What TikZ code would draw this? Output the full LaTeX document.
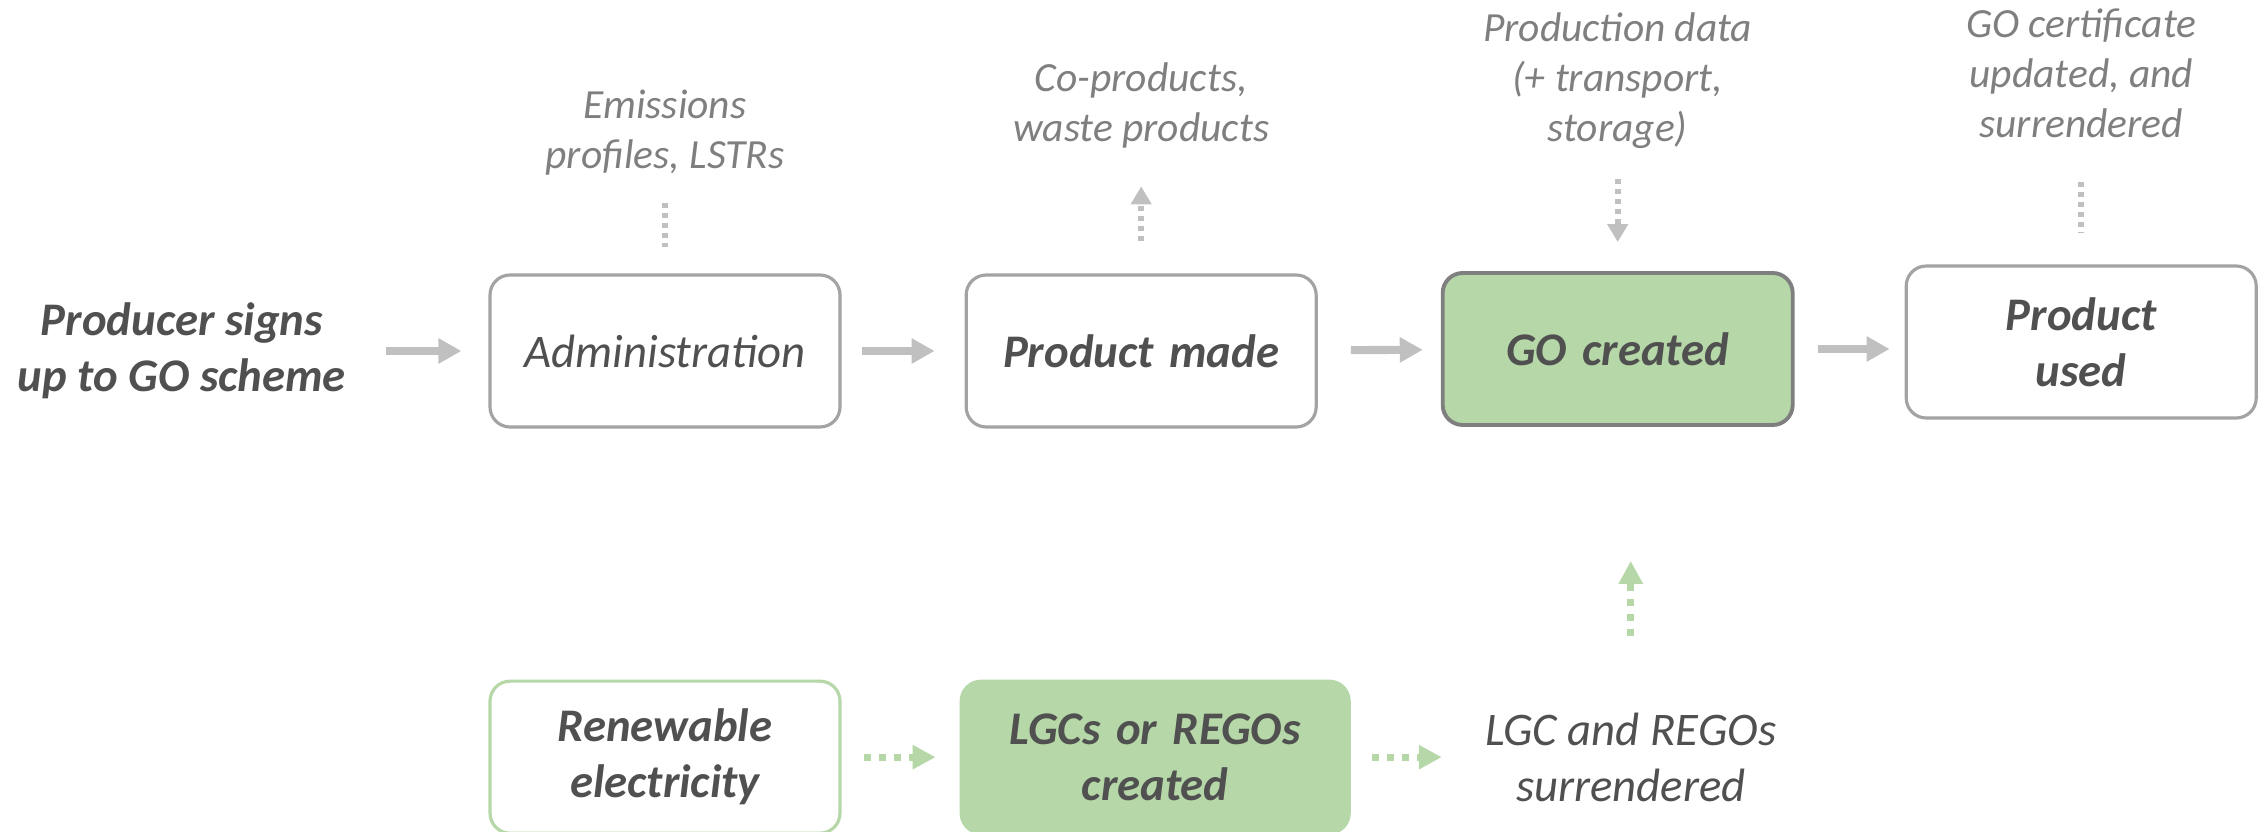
\documentclass[tikz,border=0pt]{standalone}
\usepackage{fontspec}
\setmainfont{Carlito}
\usepackage{tikz}
\usetikzlibrary{positioning, arrows.meta, calc}

\definecolor{boxgray}{HTML}{A3A3A3}
\definecolor{boxdark}{HTML}{7F7F7F}
\definecolor{textdark}{HTML}{505050}
\definecolor{textlight}{HTML}{7F7F7F}
\definecolor{arrowgray}{HTML}{C0C0C0}
\definecolor{gogreen}{HTML}{B6D7A8}

\begin{document}
\begin{tikzpicture}
	% Define styles
	\tikzset{
		block/.style={rectangle, rounded corners=0.2cm, draw=boxgray, line width=0.9pt, fill=white, text width=3.1cm, align=center, minimum width=3.5cm, minimum height=1.52cm, text=textdark, font=\fontsize{13.3}{15.9}\selectfont\itshape},
		bold/.style={font=\fontsize{13.3}{15.9}\selectfont\itshape\bfseries},
		side/.style={align=center, text=textdark, font=\fontsize{13.3}{15.9}\selectfont\itshape},
		note/.style={align=center, text=textlight, font=\fontsize{11.8}{14.3}\selectfont\itshape},
		line/.style={draw=arrowgray, line width=2.3pt, -{Triangle[length=2.3mm, width=2.4mm]}, shorten <=0.22cm, shorten >=0.24cm},
		dots/.style={draw=arrowgray, line width=1.7pt, dash pattern=on 0.05cm off 0.05cm},
		dotline/.style={dots, -{Triangle[length=1.8mm, width=2mm]}},
		greenline/.style={draw=gogreen, line width=2pt, dash pattern=on 0.07cm off 0.08cm, -{Triangle[length=2.3mm, width=2.3mm]}, shorten <=0.22cm, shorten >=0.24cm}
	}
	\useasboundingbox (0,0) rectangle (22.67,-8.32);
	
	% Nodes
	\node[block] (admin) at (6.65,-3.51) {Administration};
	\node[block, bold, right=1.23cm of admin] (made) {Product made};
	\node[block, bold, fill=gogreen, draw=boxdark, line width=1.1pt, right=1.23cm of made, yshift=0.02cm] (go) {GO created};
	\node[block, bold, right=1.1cm of go, yshift=0.07cm] (used) {Product\\used};
	\node[side, bold, left=1.3cm of admin] (signup) {Producer signs\\up to GO scheme};
	
	\node[note, above=0.86cm of admin] (emis) {Emissions\\profiles, LSTRs};
	\node[note, above=1.13cm of made] (coprod) {Co-products,\\waste products};
	\node[note, above=1.1cm of go] (data) {Production data\\(+ transport,\\storage)};
	\node[note, above=1.14cm of used] (cert) {GO certificate\\updated, and\\surrendered};
	
	\node[block, bold, draw=gogreen, below=2.51cm of admin] (renew) {Renewable\\electricity};
	\node[block, bold, fill=gogreen, draw=gogreen, text width=3.5cm, minimum width=3.88cm, right=1.18cm of renew] (lgc) {LGCs or REGOs\\created};
	\node[side, right=1.22cm of lgc] (surr) {LGC and REGOs\\surrendered};
	
	% Arrows
	\draw[line, shorten <=0.28cm, shorten >=0.27cm] (signup) -- (admin);
	\draw[line, shorten <=0.2cm, shorten >=0.3cm] (admin) -- (made);
	\draw[line, shorten <=0.33cm, shorten >=0.18cm] (made) -- (go);
	\draw[line, shorten <=0.23cm, shorten >=0.15cm] (go.east) -- (go.east -| used.west);
	
	\draw[dots, shorten <=0.16cm, shorten >=0.26cm] (emis) -- (admin);
	\draw[dotline, shorten <=0.32cm, shorten >=0.26cm] (made) -- (coprod);
	\draw[dotline, shorten <=0.18cm, shorten >=0.29cm] (data) -- (go);
	\draw[dots, shorten <=0.32cm, shorten >=0.31cm] (cert) -- (used);
	
	\draw[greenline] (renew) -- (lgc);
	\draw[greenline, shorten <=0.21cm, shorten >=0.31cm] (lgc) -- (surr);
	\draw[greenline, shorten <=0.64cm, shorten >=1.34cm] (surr.north) -- (surr.north |- go.south);
	
\end{tikzpicture}
\end{document}
